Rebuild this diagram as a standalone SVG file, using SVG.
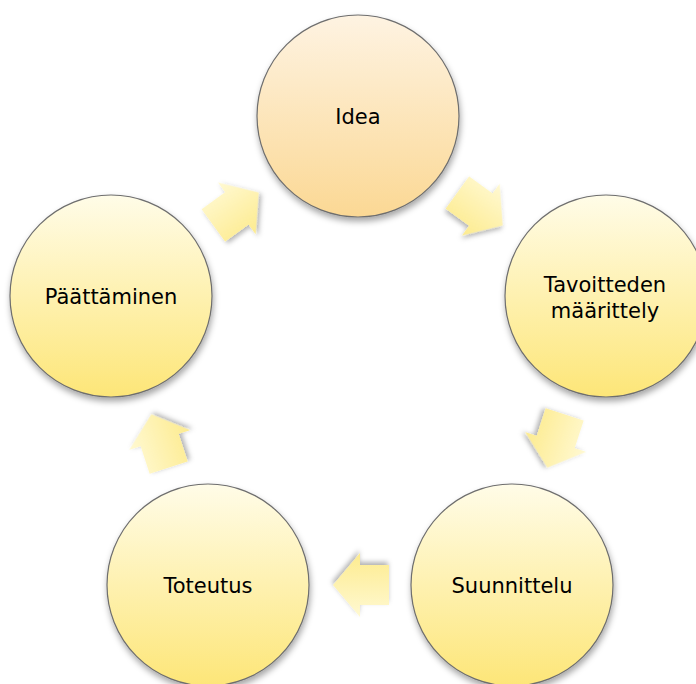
<svg xmlns="http://www.w3.org/2000/svg" width="696" height="684" viewBox="0 0 696 684">
<defs>
<linearGradient id="gPeach" x1="0" y1="0" x2="0" y2="1">
<stop offset="0" stop-color="#FEF3E2"/>
<stop offset="1" stop-color="#FBD894"/>
</linearGradient>
<linearGradient id="gYellow" x1="0" y1="0" x2="0" y2="1">
<stop offset="0" stop-color="#FFFCE8"/>
<stop offset="1" stop-color="#FDE678"/>
</linearGradient>
<linearGradient id="gArrow" x1="0" y1="0" x2="0" y2="1">
<stop offset="0" stop-color="#FFF9D2"/>
<stop offset="1" stop-color="#FDEB8E"/>
</linearGradient>
<filter id="sh" x="-20%" y="-20%" width="140%" height="150%">
<feDropShadow dx="1" dy="4" stdDeviation="3" flood-color="#000" flood-opacity="0.35"/>
</filter>
<filter id="shA" x="-30%" y="-30%" width="160%" height="160%">
<feDropShadow dx="1" dy="3" stdDeviation="2.5" flood-color="#000" flood-opacity="0.3"/>
</filter>
<path id="arr" d="M-28,-20 H1 V-32 L28,0 L1,32 V20 H-28 Z"/>
</defs>
<style>
.node circle { stroke:#6E6E6E; stroke-width:1.2; filter:url(#sh); }
.lbl { font-family:"DejaVu Sans","Verdana",sans-serif; font-size:21px; fill:#000; text-anchor:middle; dominant-baseline:central; }
.arrow use { fill:url(#gArrow); filter:url(#shA); }
</style>
<g id="connectors" class="arrow">
<use href="#arr" transform="translate(480,209) rotate(36)"/>
<use href="#arr" transform="translate(556,441) rotate(108)"/>
<use href="#arr" transform="translate(361,585) rotate(180)"/>
<use href="#arr" transform="translate(160,441) rotate(252)"/>
<use href="#arr" transform="translate(236,209) rotate(324)"/>
</g>
<g id="node-idea" class="node">
<circle cx="358" cy="116" r="101" fill="url(#gPeach)"/>
<text class="lbl" x="358" y="117">Idea</text>
</g>
<g id="node-tavoitteden" class="node">
<circle cx="606" cy="296" r="101" fill="url(#gYellow)"/>
<text class="lbl" x="605" y="285">Tavoitteden</text>
<text class="lbl" x="605" y="311">määrittely</text>
</g>
<g id="node-suunnittelu" class="node">
<circle cx="512" cy="585" r="101" fill="url(#gYellow)"/>
<text class="lbl" x="512" y="586">Suunnittelu</text>
</g>
<g id="node-toteutus" class="node">
<circle cx="208" cy="585" r="101" fill="url(#gYellow)"/>
<text class="lbl" x="208" y="586">Toteutus</text>
</g>
<g id="node-paattaminen" class="node">
<circle cx="111" cy="296" r="101" fill="url(#gYellow)"/>
<text class="lbl" x="111" y="297">Päättäminen</text>
</g>
</svg>
